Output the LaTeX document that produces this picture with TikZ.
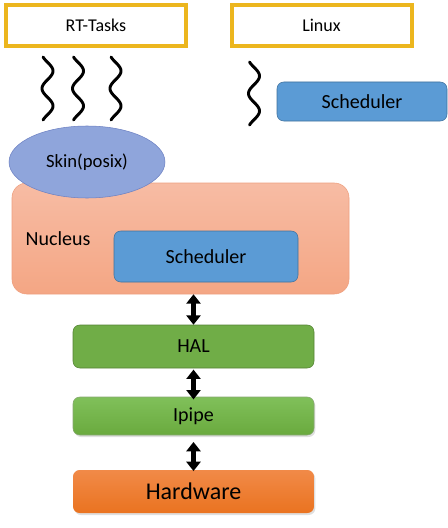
\documentclass[tikz,border=0pt]{standalone}
\usepackage{fontspec}
\setmainfont{Carlito}
\usepackage{tikz}
\usetikzlibrary{arrows.meta,shapes.geometric,shadows}

\definecolor{goldline}{RGB}{236,182,30}
\definecolor{schedblue}{RGB}{91,155,213}
\definecolor{schedline}{RGB}{65,113,156}
\definecolor{skinblue}{RGB}{143,165,219}
\definecolor{skinline}{RGB}{110,130,195}
\definecolor{nucltop}{RGB}{247,188,164}
\definecolor{nuclbot}{RGB}{244,166,132}
\definecolor{nuclline}{RGB}{238,160,128}
\definecolor{halgreen}{RGB}{112,173,71}
\definecolor{halline}{RGB}{84,130,53}
\definecolor{ipitop}{RGB}{128,192,90}
\definecolor{ipibot}{RGB}{106,170,62}
\definecolor{hwtop}{RGB}{241,138,72}
\definecolor{hwbot}{RGB}{234,115,32}

\begin{document}
\begin{tikzpicture}[x=0.75pt,y=-0.75pt]
\tikzstyle{every node}+=[inner sep=0pt, text=black]
\tikzstyle{taskbox}=[draw=goldline, line width=3pt, fill=white, minimum width=135pt, minimum height=30.75pt, font=\fontsize{13.5}{16}\selectfont, drop shadow={opacity=0.2, shadow xshift=1pt, shadow yshift=-1pt}]
\tikzstyle{schedbox}=[draw=schedline, fill=schedblue, rounded corners=5pt, font=\fontsize{15}{18}\selectfont]
\tikzstyle{layer}=[rounded corners=5pt, minimum width=180.75pt, font=\fontsize{15}{18}\selectfont]
\tikzstyle{wave}=[line width=2.2pt, line cap=round]
\tikzstyle{link}=[line width=3.6pt, {Triangle[width=10.5pt,length=7pt]}-{Triangle[width=10.5pt,length=7pt]}]
\useasboundingbox (0,0) rectangle (448,528);

% top boxes
\node [taskbox] (rt) at (96,25.5) {RT-Tasks};
\node [taskbox] (linux) at (321.5,25.5) {Linux};

% threads
\foreach \xpos/\ytop in {47.5/57, 78/57, 115.5/57, 254/62}
  \draw [wave] plot [domain=-0.3:3.3, samples=80, smooth] ({\xpos+5.5*sin(\x*180)}, {\ytop+(\x+0.3)*63/3.6});

\node [schedbox, minimum width=127.5pt, minimum height=29.25pt] (linsched) at (362,101.5) {Scheduler};

% nucleus
\node [draw=nuclline, top color=nucltop, bottom color=nuclbot, rounded corners=11pt, minimum width=252.75pt, minimum height=83.25pt] (nucleus) at (180.5,238.5) {};
\node [font=\fontsize{15}{18}\selectfont] (nuclabel) at (58,239) {Nucleus};
\node [schedbox, minimum width=138pt, minimum height=38.25pt] (rtsched) at (206,256.5) {Scheduler};

\node [ellipse, draw=skinline, fill=skinblue, minimum width=117pt, minimum height=54pt, font=\fontsize{14}{17}\selectfont] (skin) at (87,162) {Skin(posix)};

% layers
\node [layer, draw=halline, fill=halgreen, minimum height=32.25pt] (hal) at (193.5,346.5) {HAL};
\node [layer, draw=halline!70, top color=ipitop, bottom color=ipibot, minimum height=28.5pt, drop shadow={opacity=0.25, shadow xshift=1pt, shadow yshift=-1.5pt}] (ipipe) at (193.5,416) {Ipipe};
\node [layer, top color=hwtop, bottom color=hwbot, minimum height=32.25pt, font=\fontsize{18}{21}\selectfont, drop shadow={opacity=0.25, shadow xshift=1pt, shadow yshift=-1.5pt}] (hw) at (193.5,491.5) {Hardware};

\draw [link] (hal.north |- nucleus.south) -- (hal.north);
\draw [link] ([yshift=-1pt]hal.south) -- ([yshift=-2pt]ipipe.north);
\draw [link] ([yshift=-5pt]ipipe.south) -- ([yshift=-1pt]hw.north);
\end{tikzpicture}
\end{document}
